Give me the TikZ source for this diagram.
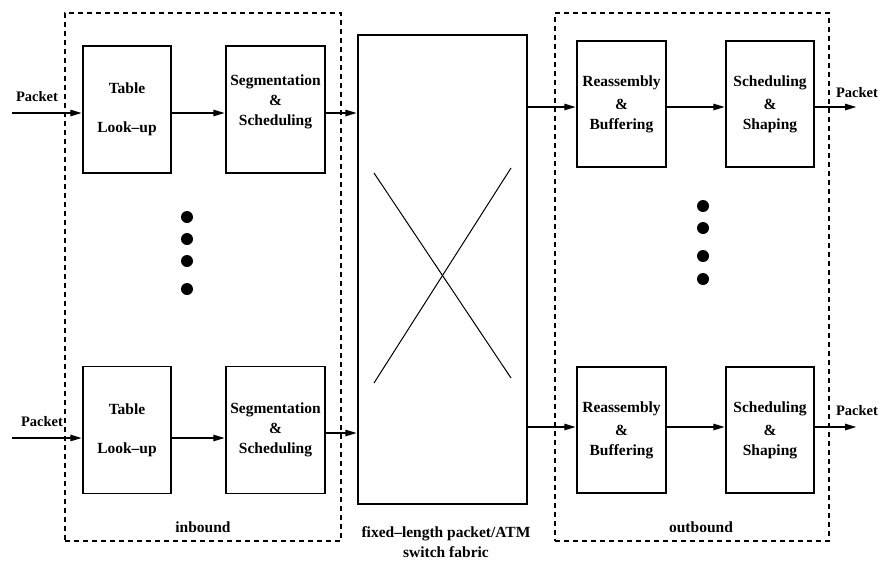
\documentclass[tikz,border=0pt]{standalone}
\usepackage{fontspec}
\setmainfont{Liberation Serif}
\usepackage{tikz}
\usetikzlibrary{arrows.meta}
\tikzstyle{block} = [rectangle, draw=black, line width=1.4pt, minimum width=88pt, minimum height=127pt, inner sep=0pt, text centered, align=center, font=\bfseries\fontsize{15.5}{20}\selectfont]
\tikzstyle{fabric} = [rectangle, draw=black, line width=1.4pt, minimum width=169pt, minimum height=469pt]
\tikzstyle{group} = [rectangle, draw=black, line width=1.1pt, dash pattern=on 5pt off 4pt, minimum width=276pt, minimum height=528pt]
\tikzstyle{caption} = [text centered, align=center, font=\bfseries\fontsize{15.5}{20}\selectfont]
\tikzstyle{packet} = [text centered, inner sep=1pt, font=\bfseries\fontsize{14.5}{16}\selectfont]
\tikzstyle{arrow} = [line width=2.4pt, -{Triangle[length=12pt,width=6pt]}]

\begin{document}
\begin{tikzpicture}[x=1pt, y=-1pt, node distance=148.5pt]
		\useasboundingbox (0,0) rectangle (881,560);
		
		% Dashed groups
		\node (inb) [group] at (203,277) {};
		\node (outb) [group, minimum width=274pt] at (692,277) {};
		
		% Inbound blocks
		\node (tab1) [block] at (127,109.5) {Table\\[19pt]Look--up};
		\node (seg1) [block, right of=tab1, minimum width=99pt] {Segmentation\\\&\\Scheduling\\[-2pt]};
		\node (tab2) [block] at (127,430) {Table\\[19pt]Look--up};
		\node (seg2) [block, right of=tab2, minimum width=99pt] {Segmentation\\\&\\Scheduling};
		
		% Switch fabric
		\node (fab) [fabric] at (442.5,269.5) {};
		\draw [line width=1pt] (374,173) -- (511,378);
		\draw [line width=1pt] (511,168) -- (374,383);
		
		% Outbound blocks
		\node (reas1) [block, minimum width=89pt, minimum height=126pt] at (621.5,104) {Reassembly\\[3pt]\&\\Buffering};
		\node (sch1) [block, right of=reas1, minimum height=126pt] {Scheduling\\[3pt]\&\\Shaping};
		\node (reas2) [block, minimum width=89pt, minimum height=126pt] at (621.5,430) {Reassembly\\[3pt]\&\\Buffering};
		\node (sch2) [block, right of=reas2, minimum height=126pt] {Scheduling\\[3pt]\&\\Shaping};
		
		% Free ends
		\coordinate (in1) at (12,113);
		\coordinate (in2) at (12,438);
		\coordinate (out1) at (857,107);
		\coordinate (out2) at (857,427);
		
		% Inbound arrows
		\draw [arrow] (in1) -- (in1 -| tab1.west);
		\draw [arrow] (in1 -| tab1.east) -- (in1 -| seg1.west);
		\draw [arrow] (in1 -| seg1.east) -- (in1 -| fab.west);
		\draw [arrow] (in2) -- (in2 -| tab2.west);
		\draw [arrow] (in2 -| tab2.east) -- (in2 -| seg2.west);
		\draw [arrow] ([yshift=-3pt]seg2.east) -- ([yshift=-3pt]seg2.east -| fab.west);
		
		% Outbound arrows
		\draw [arrow] (out1 -| fab.east) -- (out1 -| reas1.west);
		\draw [arrow] (out1 -| reas1.east) -- (out1 -| sch1.west);
		\draw [arrow] (out1 -| sch1.east) -- (out1);
		\draw [arrow] (out2 -| fab.east) -- (out2 -| reas2.west);
		\draw [arrow] (out2 -| reas2.east) -- (out2 -| sch2.west);
		\draw [arrow] (out2 -| sch2.east) -- (out2);
		
		% Dots
		\foreach \y in {217,239,261,289} \fill (187,\y) circle (6pt);
		\foreach \y in {206,228,256,279} \fill (703,\y) circle (6pt);
		
		% Labels
		\node (pin1) [packet] at (37,97) {Packet};
		\node (pin2) [packet] at (42,422) {Packet};
		\node (pout1) [packet] at (857,93) {Packet};
		\node (pout2) [packet] at (857,411) {Packet};
		\node (linb) [caption] at (203,527) {inbound};
		\node (loutb) [caption] at (701,527) {outbound};
		\node (lfab) [caption] at (446,542) {fixed--length packet/ATM\\switch fabric};
		
	\end{tikzpicture}
\end{document}
